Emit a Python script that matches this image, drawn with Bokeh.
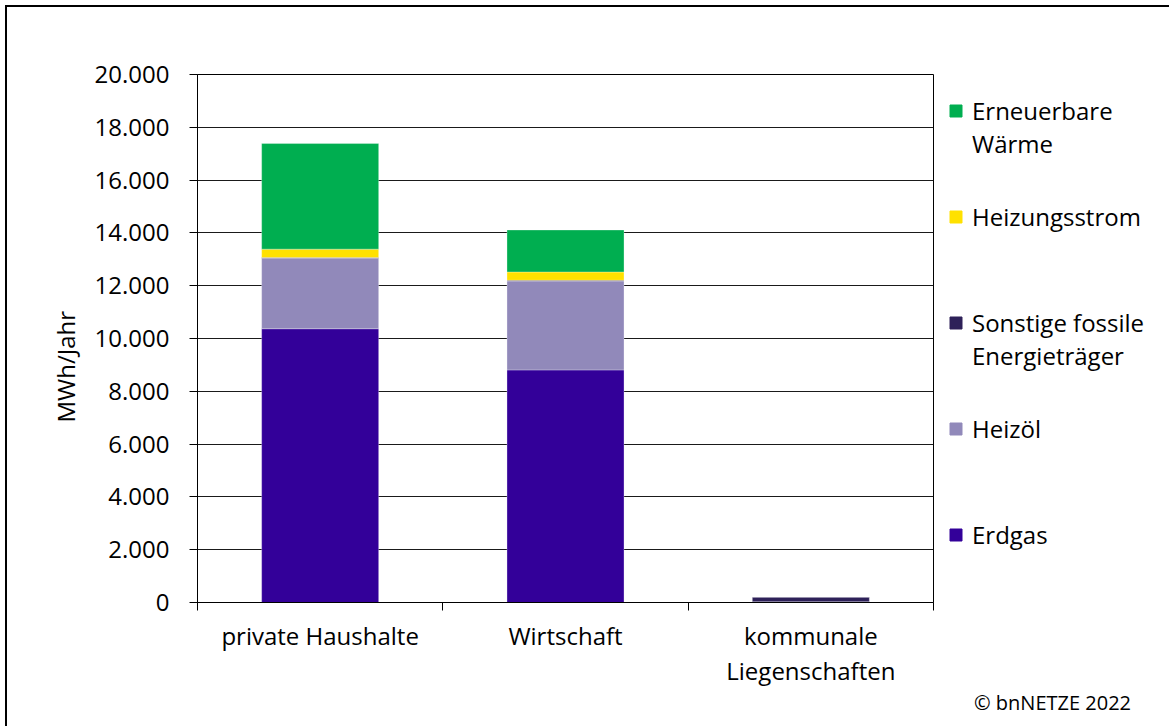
from bokeh.plotting import figure
from bokeh.layouts import row
from bokeh.models import (ColumnDataSource, Range1d, FixedTicker, Legend, LegendItem,
                          Title, LinearAxis)
from bokeh.embed import file_html
from bokeh.resources import INLINE

# Heat demand by consumer group (MWh per year)
categories = ["private Haushalte", "Wirtschaft", "kommunale\nLiegenschaften"]
erdgas = [10370, 8810, 30]
heizoel = [2670, 3370, 0]
sonstige_fossile = [25, 25, 180]
heizungsstrom = [320, 315, 0]
erneuerbare_waerme = [4000, 1590, 0]

series_names = ["Erdgas", "Heizöl", "Sonstige fossile\nEnergieträger",
                "Heizungsstrom", "Erneuerbare\nWärme"]
series_values = [erdgas, heizoel, sonstige_fossile, heizungsstrom, erneuerbare_waerme]
colors = ["#330099", "#9189BA", "#2E2159", "#FFE100", "#00AE50"]

y_ticks = list(range(0, 20001, 2000))
y_tick_labels = ["{:,}".format(v).replace(",", ".") for v in y_ticks]

FONT = "Open Sans"
H = 719
BAR_WIDTH = 0.477

x_pos = [i + 0.5 for i in range(len(categories))]
keys = ["s%d" % i for i in range(len(series_values))]
data = {"x": x_pos}
for k, vals in zip(keys, series_values):
    data[k] = vals
source = ColumnDataSource(data)

# ---- main chart -------------------------------------------------------------
p = figure(width=928, height=H, output_backend="svg", toolbar_location=None,
           x_range=Range1d(0, len(categories)), y_range=Range1d(0, 20000),
           min_border_left=190, min_border_right=2, min_border_top=67,
           min_border_bottom=124)

p.vbar_stack(keys, x="x", width=BAR_WIDTH, source=source, color=colors,
             line_color="white", line_width=0.6, line_alpha=0.5)

p.outline_line_color = "black"
p.outline_line_width = 1
p.background_fill_color = "white"
p.border_fill_color = "white"
p.xgrid.grid_line_color = None
p.ygrid.grid_line_color = "#1a1a1a"
p.ygrid.grid_line_width = 1
p.ygrid.ticker = FixedTicker(ticks=y_ticks)

yax = p.yaxis[0]
yax.ticker = FixedTicker(ticks=y_ticks)
yax.major_label_overrides = {v: s for v, s in zip(y_ticks, y_tick_labels)}
yax.major_tick_out = 8
yax.major_tick_in = 0
yax.minor_tick_out = 0
yax.minor_tick_in = 0
yax.axis_line_color = "black"
yax.major_tick_line_color = "black"
yax.major_label_text_font = FONT
yax.major_label_text_font_size = "24px"
yax.major_label_text_color = "black"
yax.major_label_standoff = 20

# vertical axis title, set a little below the middle of the plot area
p.add_layout(Title(text="MWh/Jahr", align="left", offset=180, standoff=20,
                   text_font=FONT, text_font_size="24px", text_font_style="normal",
                   text_color="black"), "left")

# x axis: labels centred on bars, tick marks between categories
xax = p.xaxis[0]
xax.ticker = FixedTicker(ticks=x_pos, minor_ticks=list(range(len(categories) + 1)))
xax.major_label_overrides = {x: c for x, c in zip(x_pos, categories)}
xax.major_tick_out = 0
xax.major_tick_in = 0
xax.minor_tick_out = 8
xax.minor_tick_in = 0
xax.minor_tick_line_color = "black"
xax.axis_line_color = "black"
xax.major_label_text_font = FONT
xax.major_label_text_font_size = "24px"
xax.major_label_text_line_height = 1.08
xax.major_label_text_color = "black"
xax.major_label_standoff = 8

# ---- side panel with the legend and the credit line ------------------------------
side = figure(width=1162 - 928, height=H, output_backend="svg", toolbar_location=None,
              x_range=Range1d(0, 1), y_range=Range1d(0, 1),
              min_border=0, x_axis_type=None, y_axis_type=None)
side.outline_line_color = None
side.grid.grid_line_color = None
side.background_fill_color = "white"
side.border_fill_color = "white"

# hidden copy of the stacked bars, used only for the legend swatches
swatches = side.vbar_stack(keys, x="x", width=BAR_WIDTH, source=source, color=colors,
                           visible=False)

# a blank leading line keeps the marker level with the first line of two-line entries
def legend_label(name):
    return " \n" + name if "\n" in name else name

items = [LegendItem(label=legend_label(series_names[i]), renderers=[swatches[i]])
         for i in reversed(range(len(series_names)))]
legend = Legend(items=items, location=(13, 18), orientation="vertical",
                glyph_width=15, glyph_height=15, label_standoff=9,
                label_text_font=FONT, label_text_font_size="24px",
                label_text_color="black", click_policy="none",
                label_height=100, spacing=6, padding=0, margin=0,
                border_line_color=None, background_fill_alpha=0)
side.add_layout(legend, "center")

# credit line: the label of a bare axis under the side panel
credit = LinearAxis(ticker=FixedTicker(ticks=[]), axis_line_color=None,
                    major_tick_line_color=None, minor_tick_line_color=None,
                    major_label_standoff=0, major_tick_out=0, major_tick_in=0,
                    axis_label="© bnNETZE 2022", axis_label_standoff=86,
                    axis_label_text_font=FONT, axis_label_text_font_size="20px",
                    axis_label_text_font_style="normal", axis_label_text_color="black")
side.add_layout(credit, "below")

page = row(p, side, spacing=0)
page.styles = {"margin-left": "5px", "margin-top": "5px",
               "border-left": "2px solid black", "border-top": "2px solid black"}

open("out.html", "w").write(file_html(page, INLINE))
